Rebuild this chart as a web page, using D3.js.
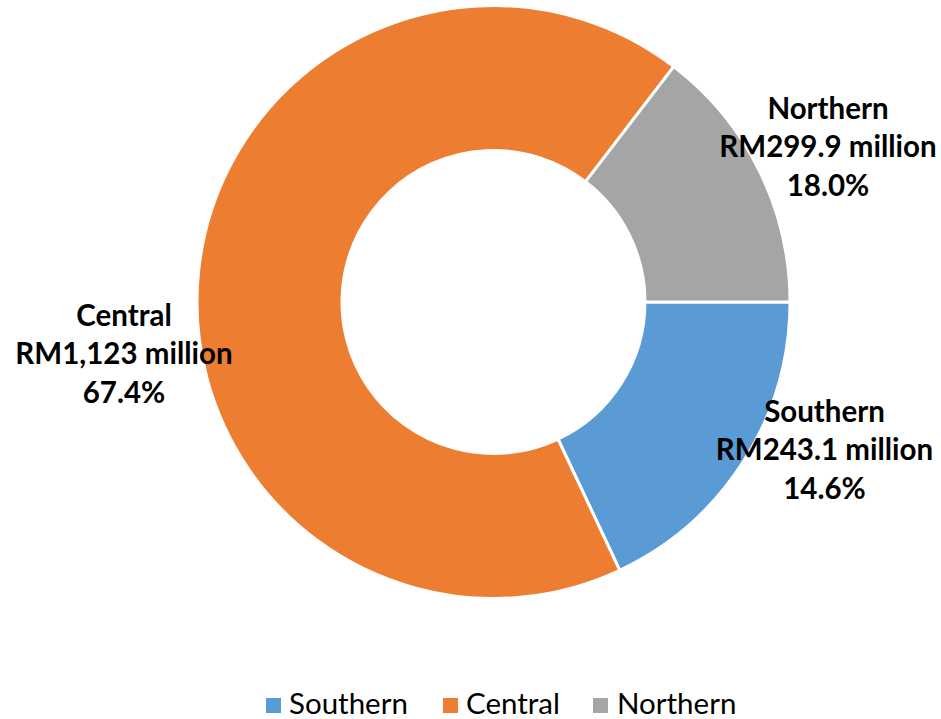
<!DOCTYPE html>
<html>
<head>
<meta charset="utf-8">
<script src="https://cdn.jsdelivr.net/npm/d3@7"></script>
<style>
  html, body { margin: 0; padding: 0; background: #fff; }
  svg { display: block; }
</style>
</head>
<body>
<svg id="chart" width="941" height="719"></svg>
<script>
// ---- data ----
const categories = ["Southern", "Central", "Northern"];
// slice sizes as drawn in the reference (share of the ring, %)
const sliceValues = [18.0, 67.4, 14.6];
const labelAmounts = ["RM243.1 million", "RM1,123 million", "RM299.9 million"];
const labelPercents = ["14.6%", "67.4%", "18.0%"];
const colors = ["#5B9BD5", "#ED7D31", "#A5A5A5"];

// ---- layout ----
const W = 941, H = 719;
const cx = 493.5, cy = 302;
const outerR = 296.5, innerR = 151.5;
const labelFont = "Lato, 'Open Sans', sans-serif";
// label anchor offsets from centre (baseline of the middle line of each label block)
const labelOffsets = [[331, 158], [-369.5, 62], [334.5, -145]];
const lineGap = 38.5;

const svg = d3.select("#chart");
const g = svg.append("g").attr("transform", `translate(${cx},${cy})`);

const pie = d3.pie().sort(null).value(d => d)
  .startAngle(Math.PI / 2).endAngle(Math.PI / 2 + 2 * Math.PI);
const arc = d3.arc().innerRadius(innerR).outerRadius(outerR);

const arcs = pie(sliceValues);
g.selectAll("path.slice").data(arcs).enter().append("path")
  .attr("class", "slice")
  .attr("d", arc)
  .attr("fill", (d, i) => colors[i])
  .attr("stroke", "#fff")
  .attr("stroke-width", 3)
  .attr("stroke-linejoin", "miter");

// data labels
const lab = g.selectAll("g.label").data(arcs).enter().append("g")
  .attr("class", "label")
  .attr("transform", (d, i) => `translate(${labelOffsets[i][0]},${labelOffsets[i][1]})`);
lab.each(function(d, i) {
  const t = d3.select(this).append("text")
    .attr("text-anchor", "middle")
    .attr("font-family", labelFont)
    .attr("font-weight", 700)
    .attr("font-size", 29.5)
    .attr("fill", "#000");
  const lines = [categories[i], labelAmounts[i], labelPercents[i]];
  lines.forEach((s, k) => {
    t.append("tspan").attr("x", 0).attr("y", (k - 1) * lineGap).text(s);
  });
});

// legend
const legendItems = [
  { sq: 266, tx: 289 },
  { sq: 443, tx: 466 },
  { sq: 593, tx: 617 }
];
const legend = svg.append("g");
categories.forEach((c, i) => {
  legend.append("rect")
    .attr("x", legendItems[i].sq).attr("y", 698)
    .attr("width", 15).attr("height", 15)
    .attr("fill", colors[i]);
  legend.append("text")
    .attr("x", legendItems[i].tx).attr("y", 714)
    .attr("font-family", labelFont)
    .attr("font-size", 29.5)
    .attr("fill", "#000")
    .text(c);
});
</script>
</body>
</html>
